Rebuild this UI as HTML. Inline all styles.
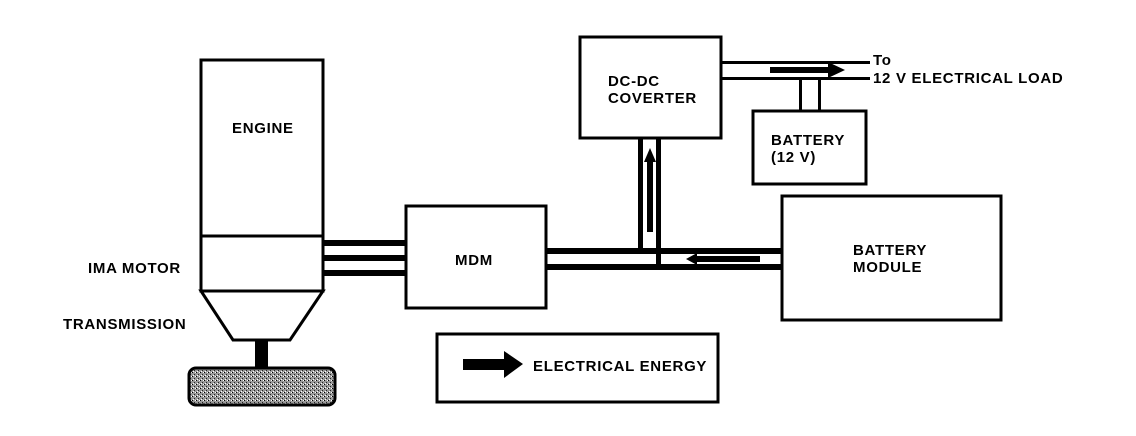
<!DOCTYPE html>
<html><head><meta charset="utf-8"><style>
html,body{margin:0;padding:0;background:#fff;}
svg{display:block;}
text{font-family:"Liberation Sans",sans-serif;font-weight:bold;font-size:15px;letter-spacing:0.7px;fill:#000;}
</style></head><body>
<svg width="1136" height="436" viewBox="0 0 1136 436" xmlns="http://www.w3.org/2000/svg">
<defs>
<pattern id="st" width="4" height="4" patternUnits="userSpaceOnUse">
<rect width="4" height="4" fill="#999"/><rect x="0" y="0" width="1" height="1" fill="#000"/><rect x="2" y="2" width="1" height="1" fill="#222"/><rect x="3" y="0" width="1" height="1" fill="#fff"/><rect x="1" y="3" width="1" height="1" fill="#fff"/>
</pattern>
</defs>
<g fill="none" stroke="#000" stroke-width="3">
<rect x="201" y="60" width="122" height="231"/>
<line x1="201" y1="236" x2="323" y2="236"/>
<polygon points="201,291 323,291 290,340 233,340"/>
<rect x="406" y="206" width="140" height="102"/>
<rect x="580" y="37" width="141" height="101"/>
<rect x="753" y="111" width="113" height="73"/>
<rect x="782" y="196" width="219" height="124"/>
<rect x="437" y="334" width="281" height="68"/>
</g>
<rect x="189" y="368" width="146" height="37" rx="7" fill="url(#st)" stroke="#000" stroke-width="3"/>
<rect x="255" y="340" width="13" height="29" fill="#000"/>
<rect x="323" y="240" width="83" height="6" fill="#000"/>
<rect x="323" y="255" width="83" height="6" fill="#000"/>
<rect x="323" y="270" width="83" height="6" fill="#000"/>
<rect x="546" y="248" width="236" height="6" fill="#000"/>
<rect x="546" y="264" width="236" height="6" fill="#000"/>
<rect x="638" y="138" width="5" height="112" fill="#000"/>
<rect x="656" y="138" width="5" height="128" fill="#000"/>
<rect x="647" y="160" width="6" height="72" fill="#000"/>
<polygon points="644,162 656,162 650,148" fill="#000"/>
<rect x="695" y="256" width="65" height="6" fill="#000"/>
<polygon points="697,253 697,265 686,259" fill="#000"/>
<rect x="721" y="61" width="149" height="3" fill="#000"/>
<rect x="721" y="77" width="149" height="3" fill="#000"/>
<rect x="770" y="67" width="60" height="6" fill="#000"/>
<polygon points="828,62 828,78 845,70" fill="#000"/>
<rect x="799" y="78" width="3" height="33" fill="#000"/>
<rect x="818" y="78" width="3" height="33" fill="#000"/>
<rect x="463" y="359" width="43" height="11" fill="#000"/>
<polygon points="504,351 504,378 523,364" fill="#000"/>
<text x="232" y="133">ENGINE</text>
<text x="88" y="273">IMA MOTOR</text>
<text x="63" y="329">TRANSMISSION</text>
<text x="455" y="265">MDM</text>
<text x="608" y="86">DC-DC</text>
<text x="608" y="103">COVERTER</text>
<text x="771" y="145">BATTERY</text>
<text x="771" y="162">(12 V)</text>
<text x="853" y="255">BATTERY</text>
<text x="853" y="272">MODULE</text>
<text x="873" y="65">To</text>
<text x="873" y="83">12 V ELECTRICAL LOAD</text>
<text x="533" y="371">ELECTRICAL ENERGY</text>
</svg>
</body></html>
